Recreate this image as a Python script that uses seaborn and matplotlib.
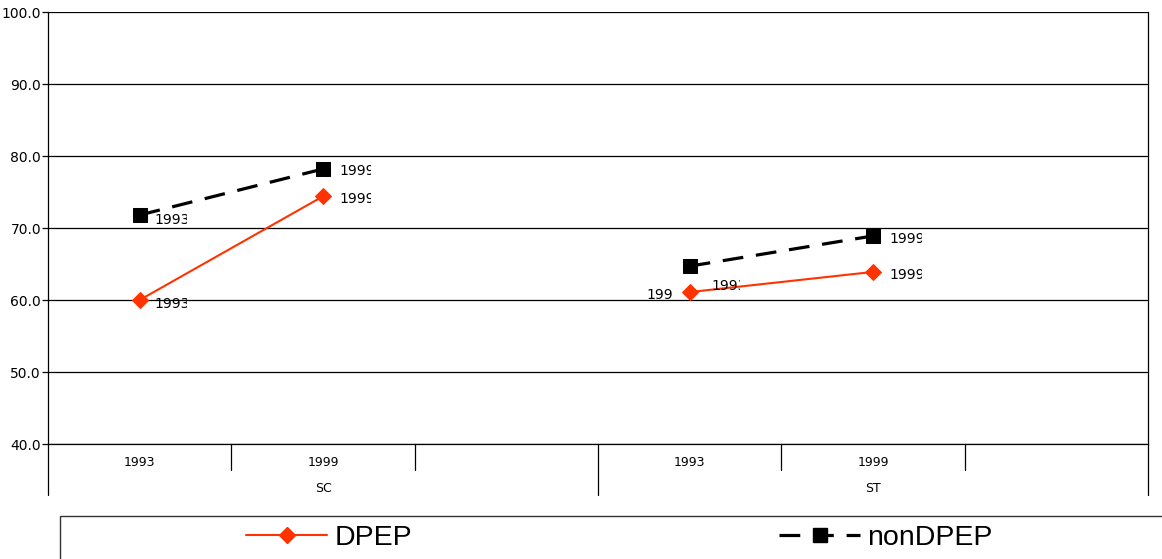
import matplotlib
matplotlib.use("Agg")
import matplotlib.pyplot as plt
import seaborn as sns
import pandas as pd
from matplotlib.lines import Line2D
from matplotlib.patches import Rectangle
from matplotlib.transforms import Bbox

groups = ["SC", "ST"]
years = ["1993", "1999"]
dpep = [60.0, 74.4, 61.1, 63.9]          # SC-1993, SC-1999, ST-1993, ST-1999
nondpep = [71.8, 78.2, 64.7, 68.9]
yticks = [40, 50, 60, 70, 80, 90, 100]

# slot layout: each group has 3 slots (1993, 1999, blank)
rows = []
for gi, g in enumerate(groups):
    for yi, yr in enumerate(years):
        pos = gi * 3 + yi + 0.5
        rows.append(dict(group=g, year=yr, pos=pos, series="DPEP", value=dpep[gi * 2 + yi]))
        rows.append(dict(group=g, year=yr, pos=pos, series="nonDPEP", value=nondpep[gi * 2 + yi]))
df = pd.DataFrame(rows)

sns.set_theme(style="white")
plt.rcParams["font.family"] = ["DejaVu Sans"]
plt.rcParams["text.color"] = "black"
plt.rcParams["ytick.color"] = "black"
plt.rcParams["xtick.color"] = "black"

W, H = 1162, 559
fig = plt.figure(figsize=(W / 100, H / 100), dpi=100)
ax = fig.add_axes([48 / W, (H - 444) / H, 1100 / W, 432 / H])

red = "#FF3300"
sub = df[df.series == "DPEP"]
sns.lineplot(data=sub, x="pos", y="value", units="group", estimator=None, ax=ax,
             color=red, linewidth=1.5, marker="D", markersize=8, markeredgecolor=red,
             legend=False, zorder=4)
sub = df[df.series == "nonDPEP"]
sns.lineplot(data=sub, x="pos", y="value", units="group", estimator=None, ax=ax,
             color="black", linewidth=2.3, marker="s", markersize=10, markeredgecolor="black",
             legend=False, zorder=5)
for ln in ax.get_lines():
    if ln.get_color() == "black":
        ln.set_dashes((6.5, 4))

ax.set_xlim(0, 6)
ax.set_ylim(40, 100)
ax.set_yticks(yticks)
ax.set_yticklabels([f"{v:.1f}" for v in yticks], fontsize=10, color="black")
ax.set_xticks([])
ax.set_xlabel("")
ax.set_ylabel("")
ax.grid(False)
for v in yticks:
    ax.axhline(v, color="black", lw=0.9, zorder=1)
ax.tick_params(axis="y", length=4, width=0.9, color="black", pad=1, left=True)
ax.spines["top"].set_visible(False)
for s in ["left", "right", "bottom"]:
    ax.spines[s].set_color("black")
    ax.spines[s].set_linewidth(0.9)

# data labels (clipped like the original)
def dlabel(x, y, text, dx, dy, clip_px):
    t = ax.annotate(text, (x, y), xytext=(dx, dy), textcoords="offset pixels",
                    fontsize=10, va="center", ha="left", color="black", zorder=6,
                    annotation_clip=False)
    t.set_clip_on(True)
    t.set_clip_box(Bbox([[0, 0], [clip_px, H]]))
    return t

pos = [0.5, 1.5, 3.5, 4.5]
# SC
dlabel(pos[0], nondpep[0], "1993", 15, -5, 187)
dlabel(pos[0], dpep[0], "1993", 15, -4, 187)
dlabel(pos[1], nondpep[1], "1999", 16, -2, 371)
dlabel(pos[1], dpep[1], "1999", 16, -3, 371)
# ST
dlabel(pos[2], nondpep[2], "1993", 22, -20, 740)
dlabel(pos[2], dpep[2], "1993", -43, -3, 673)
dlabel(pos[3], nondpep[3], "1999", 16, -3, 922)
dlabel(pos[3], dpep[3], "1999", 16, -3, 922)

# category axis table
ah = 432.0
for xb in [1, 2, 4, 5]:
    ax.plot([xb, xb], [0, -26 / ah], transform=ax.get_xaxis_transform(),
            color="black", lw=0.9, clip_on=False)
for xb in [0, 3, 6]:
    ax.plot([xb, xb], [0, -51 / ah], transform=ax.get_xaxis_transform(),
            color="black", lw=0.9, clip_on=False)
for gi, g in enumerate(groups):
    for yi, yr in enumerate(years):
        ax.text(gi * 3 + yi + 0.5, -18 / ah, yr, transform=ax.get_xaxis_transform(),
                ha="center", va="center", fontsize=9, color="black")
    ax.text(gi * 3 + 1.5, -44 / ah, g, transform=ax.get_xaxis_transform(),
            ha="center", va="center", fontsize=9, color="black")

# legend box
fig.patches.append(Rectangle((60 / W, -10 / H), 1120 / W, (H - 516 + 10) / H,
                             transform=fig.transFigure, fill=False,
                             edgecolor="#333333", lw=1.0))
handles = [
    Line2D([], [], color=red, lw=1.5, marker="D", markersize=8, markeredgecolor=red),
    Line2D([], [], color="black", lw=2.3, marker="s", markersize=10, dashes=(6.5, 4)),
]
leg = fig.legend(handles, ["DPEP", "nonDPEP"], ncol=2, frameon=False,
                 loc="center left", bbox_to_anchor=(246 / W, (H - 538) / H),
                 prop={"family": "Liberation Sans", "size": 20.5},
                 handlelength=2.85, handletextpad=0.25, columnspacing=12.9,
                 borderpad=0, borderaxespad=0, labelcolor="black")

fig.savefig("out.png", dpi=100)
